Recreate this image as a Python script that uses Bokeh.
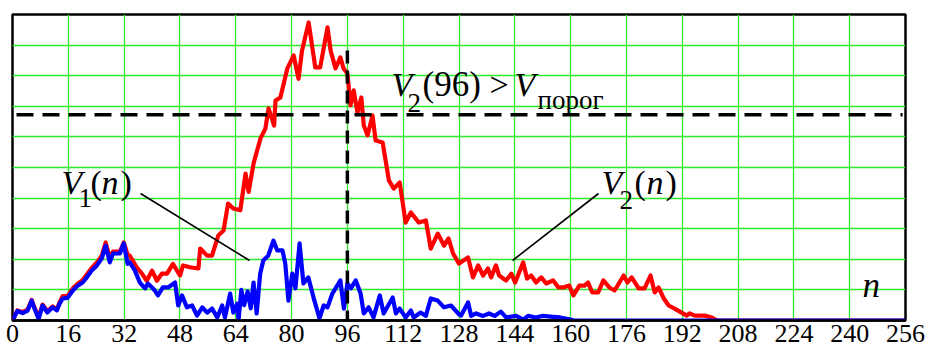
from bokeh.plotting import figure
from bokeh.models import Range1d, FixedTicker, Label, LinearAxis, Grid
from bokeh.embed import file_html
from bokeh.resources import INLINE

# ---------------- data ----------------
x_ticks = [0, 16, 32, 48, 64, 80, 96, 112, 128, 144, 160, 176, 192, 208, 224, 240, 256]
y_grid = [1, 2, 3, 4, 5, 6, 7, 8, 9]

v2_n = [0, 1.4, 2.9, 4.3, 5.5, 6.3, 7.5, 8.6, 10, 11.5, 12.7, 13.5, 14.4, 15.8, 17.3, 18.7,
        20.1, 21.3, 22.7, 24.2, 25.6, 26.7, 27.9, 28.8, 30.8, 31.9, 33, 33.6, 35.6, 37, 38.5,
        40, 41.4, 42.8, 44.3, 46, 48, 48.9, 50.9, 53.3, 53.8, 55.8, 57.2, 59, 60.5, 61.8,
        63.3, 65.3, 66.8, 67.7, 69.1, 71.1, 72.5, 73.4, 75, 75.4, 76.8, 78.8, 80.6, 82, 83,
        84.9, 86.8, 88.2, 90.3, 91.2, 92.6, 94, 94.9, 96, 96.9, 97.8, 98.9, 100, 100.7,
        101.8, 103.2, 104.1, 106.1, 107.9, 109.3, 111, 112.7, 114.2, 116.5, 118.5, 119.9,
        121.9, 123.7, 125, 126.3, 128, 130.6, 132, 133.5, 134.9, 136.3, 137.2, 138.6, 139.5,
        141.5, 143, 144.1, 146.4, 147.5, 148.7, 150.1, 151.6, 153, 155, 156.5, 157.9, 159.6,
        160.8, 162.5, 164, 165, 166.2, 167.9, 169.4, 171.1, 172.6, 175.2, 176.3, 177.5,
        179.5, 181.2, 182.9, 184.1, 185.2, 186.7, 188.1, 189.8, 191.3, 193.3, 194.1, 195.6,
        198.4, 200.5, 202, 256]
v2 = [0, 0.33, 0.28, 0.35, 0.67, 0.42, 0.1, 0.52, 0.3, 0.46, 0.36, 0.6, 0.8, 0.8, 1.05, 1.2,
      1.32, 1.5, 1.72, 1.9, 2.12, 2.55, 2.05, 2.25, 2.25, 2.55, 2.15, 2.12, 1.74, 1.55, 1.3,
      1.63, 1.3, 1.53, 1.53, 1.85, 1.47, 1.8, 1.74, 1.7, 2.35, 2.12, 2.12, 2.78, 2.94, 3.82,
      3.66, 3.6, 4.8, 4.2, 5.13, 5.95, 6.27, 6.93, 6.37, 7.19, 7.29, 8.24, 8.66, 7.9, 8.82,
      9.74, 8.27, 8.27, 9.58, 8.82, 8.24, 8.6, 8.24, 8.07, 7.03, 7.52, 6.8, 7.29, 6.37,
      6.05, 6.7, 5.88, 5.82, 4.58, 4.31, 4.51, 3.2, 3.53, 3.2, 3.27, 2.35,
      2.84, 2.45, 2.68, 2.19, 1.86, 2.06, 1.41, 1.8, 1.47, 1.7, 1.41, 1.8, 1.47,
      1.31, 1.53, 1.24, 1.9, 1.37, 1.47, 1.24, 1.41, 1.21, 1.31, 1.08, 1.08, 1.14,
      0.82, 1.14, 1.14, 1.24, 0.92, 0.92, 1.31, 1.08, 0.98, 1.47, 1.24, 1.41,
      1.05, 1.05, 1.47, 0.92, 1.08, 0.72, 0.49, 0.39, 0.29, 0.16, 0.23, 0.16,
      0.16, 0.1, 0, 0]

v1_n = [0, 1.4, 2.9, 4.3, 5.5, 6.3, 7.5, 8.6, 10, 11.5, 12.7, 13.5, 14.4, 15.8, 17.3, 18.7,
        20.1, 21.3, 22.7, 24.2, 25.6, 26.7, 27.9, 28.8, 30.8, 31.9, 33, 33.6, 35.1, 36.5, 38,
        38.8, 40, 40.8, 41.7, 43.1, 44.6, 46.6, 47.5, 48.6, 50, 51.5, 52.9, 54.4, 55.8, 57.2,
        58.7, 60.1, 60.9, 62.4, 63.3, 64.4, 64.8, 65.6, 66.4, 67.4, 68.3, 69.1, 70, 71, 71.9,
        73.3, 74.8, 75.9, 77.4, 78.2, 79.1, 80.2, 81.1, 82.3, 83.4, 84.8, 86.3, 88, 89.2,
        90.3, 91.7, 94, 94.6, 95, 96, 97, 98.4, 99.8, 100.7, 102.1, 103.5, 105.3, 106.4, 109,
        109.9, 111, 112.7, 114.2, 115, 117, 118.5, 119.9, 121.9, 123.7, 125.7, 128, 128.6,
        130.6, 131.5, 132.9, 134.9, 136.6, 138.2, 140, 141.5, 144.4, 146.4, 147.8, 150, 152,
        155, 157, 160, 161, 256]
v1 = [0, 0.31, 0.24, 0.32, 0.65, 0.39, 0.05, 0.49, 0.26, 0.43, 0.33, 0.55, 0.72, 0.74, 0.98, 1.14,
      1.24, 1.41, 1.63, 1.8, 2.03, 2.45, 1.9, 2.19, 2.19, 2.52, 1.85, 1.9, 1.63, 1.24, 1.05,
      1.21, 1.08, 0.98, 0.82, 1.08, 1.08, 1.24, 0.49, 0.82, 0.43, 0.49, 0.16, 0.43, 0.26, 0.39,
      0.1, 0.49, 0.1, 0.88, 0.26, 0.55, 0, 1.0, 0.5, 0.95, 0.4, 1.24, 0.23, 1.53, 1.96,
      2.12, 2.61, 2.29, 2.29, 1.86, 0.65, 1.53, 1.05, 2.52, 1.21, 1.41, 0.75, 0.07, 0.49,
      0.43, 0.88, 1.31, 0.75, 0.39, 1.21, 1.05, 1.31, 0.88, 0.23, 0.43, 0.1, 0.82, 0.23, 0.75,
      0.23, 0.39, 0.1, 0.33, 0.1, 0.26, 0.15, 0.72, 0.65, 0.43, 0.49, 0.2, 0.16,
      0.59, 0.15, 0.23, 0.15, 0.23, 0.15, 0.29, 0.1, 0.15, 0.03, 0.15, 0.1, 0.15,
      0.12, 0.1, 0.03, 0, 0]

threshold = 6.72      # V_порог
n_detect = 96         # detection sample
detect_top = 8.82     # top of the vertical marker


# ---------------- helpers: reference pixel -> data (annotation placement only) ----------------
def X(px):
    return (px - 12) / 3.488


def Y(py):
    return (320 - py) / 30.6


SERIF = "Liberation Serif"

p = figure(width=935, height=354,
           x_range=Range1d(0, 256), y_range=Range1d(0, 10),
           x_axis_type=None, y_axis_type=None,
           output_backend="svg", toolbar_location=None,
           min_border_left=12, min_border_right=30, min_border_top=14, min_border_bottom=34)

p.background_fill_color = "white"
p.border_fill_color = "white"
p.outline_line_color = "black"
p.outline_line_width = 2.5

xaxis = LinearAxis(ticker=FixedTicker(ticks=x_ticks))
xaxis.axis_line_color = "black"
xaxis.axis_line_width = 2.5
xaxis.major_tick_line_color = None
xaxis.minor_tick_line_color = None
xaxis.major_tick_out = 0
xaxis.major_tick_in = 0
xaxis.major_label_standoff = 4
xaxis.major_label_text_font = SERIF
xaxis.major_label_text_font_size = "26px"
xaxis.major_label_text_color = "black"
p.add_layout(xaxis, "below")

gcol = "#2ee82e"
p.add_layout(Grid(dimension=0, ticker=FixedTicker(ticks=x_ticks[1:-1]),
                  grid_line_color=gcol, grid_line_width=1.3))
p.add_layout(Grid(dimension=1, ticker=FixedTicker(ticks=y_grid),
                  grid_line_color=gcol, grid_line_width=1.3))

# curves
p.line(v2_n, v2, line_color="#ff0000", line_width=4.2, line_join="round")
p.line(v1_n, v1, line_color="#0000ff", line_width=4.2, line_join="round")

# threshold and detection markers
p.line([X(16), X(902)], [threshold, threshold], line_color="black", line_width=3.5,
       line_dash="17 9")
p.line([n_detect, n_detect], [detect_top, 0], line_color="black", line_width=3.5,
       line_dash="13 7")

# leader lines
p.segment(x0=[X(140), X(598)], y0=[Y(193), Y(193)], x1=[X(249), X(512)], y1=[Y(260), Y(260)],
          line_color="black", line_width=1.6)


def lab(px, py, text, size, italic=False):
    p.add_layout(Label(x=X(px), y=Y(py), text=text, text_font=SERIF,
                       text_font_size=f"{size}px",
                       text_font_style="italic" if italic else "normal",
                       text_align="left", text_baseline="alphabetic",
                       text_color="black"))


# V2(96) > V_порог
lab(391, 84, "V", 34, True)
lab(407, 102, "2", 27)
lab(422, 84, "(96)", 35)
lab(489, 84, ">", 34)
lab(514, 84, "V", 34, True)
lab(537, 99, "порог", 27)

# V1(n)
lab(61, 182, "V", 34, True)
lab(78, 197, "1", 27)
lab(90, 182, "(", 34)
lab(101, 182, "n", 34, True)
lab(120, 182, ")", 34)

# V2(n)
lab(601, 182, "V", 34, True)
lab(619, 199, "2", 27)
lab(634, 182, "(", 34)
lab(646, 182, "n", 34, True)
lab(665, 182, ")", 34)

# axis variable
lab(862, 285, "n", 35, True)

open("out.html", "w").write(file_html(p, INLINE))
